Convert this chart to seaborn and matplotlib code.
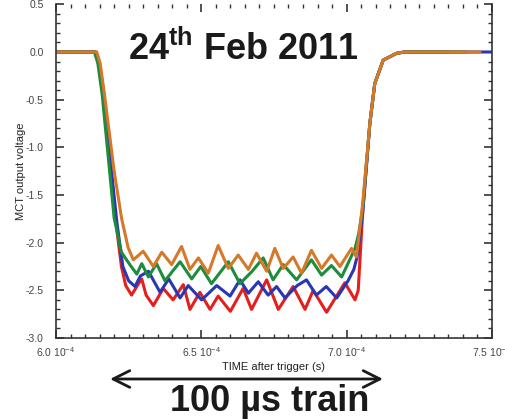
import matplotlib
matplotlib.use("Agg")
import matplotlib.pyplot as plt
from matplotlib.ticker import MultipleLocator
import numpy as np
import pandas as pd
import seaborn as sns

# time in microseconds after trigger, voltage in V
red_t = [600.3, 613.8, 615.0, 616.5, 620.6, 622.5, 624.0, 626.0, 628.0, 629.5, 631.0, 633.5,
         636.9, 640.3, 643.8, 646.1, 649.5, 653.0, 655.8, 660.0, 664.4, 667.3, 672.5, 676.5,
         681.6, 685.7, 688.5, 693.1, 699.4, 702.9, 704.0, 705.5, 708.0, 709.7, 712.6, 717.2,
         720.0, 735.0]
red_v = [0.0, 0.0, -0.12, -0.45, -1.78, -2.25, -2.45, -2.55, -2.45, -2.38, -2.55, -2.66,
         -2.48, -2.60, -2.44, -2.70, -2.52, -2.70, -2.56, -2.72, -2.48, -2.70, -2.39, -2.70,
         -2.46, -2.70, -2.50, -2.73, -2.42, -2.60, -2.50, -1.70, -0.75, -0.33, -0.085, -0.014,
         0.0, 0.0]

blue_t = [600.3, 613.6, 614.8, 616.3, 621.0, 623.0, 625.0, 627.2, 629.0, 631.8, 635.8, 638.8,
          642.7, 645.5, 650.1, 655.3, 659.9, 663.3, 666.2, 669.6, 673.0, 675.9, 678.8, 683.0,
          686.2, 689.6, 693.0, 696.6, 700.5, 702.5, 703.6, 705.5, 708.0, 709.7, 712.6, 717.2,
          720.0, 750.0]
blue_v = [0.0, 0.0, -0.12, -0.45, -1.80, -2.25, -2.40, -2.46, -2.35, -2.30, -2.52, -2.38,
          -2.58, -2.45, -2.60, -2.45, -2.56, -2.39, -2.53, -2.41, -2.55, -2.46, -2.58, -2.45,
          -2.39, -2.55, -2.46, -2.58, -2.40, -2.28, -2.15, -1.70, -0.75, -0.33, -0.085, -0.014,
          0.0, 0.0]

green_t = [600.3, 613.2, 614.4, 615.9, 620.0, 622.5, 625.4, 627.8, 629.5, 631.8, 634.6, 637.5,
           642.7, 646.7, 649.8, 653.5, 659.3, 663.3, 667.5, 671.3, 674.7, 678.2, 682.8, 687.9,
           691.4, 694.8, 698.3, 702.9, 704.2, 705.5, 708.0, 709.7, 712.6, 717.2, 720.0, 741.3]
green_v = [0.0, 0.0, -0.12, -0.45, -1.74, -2.10, -2.23, -2.33, -2.22, -2.36, -2.22, -2.40,
           -2.20, -2.38, -2.25, -2.43, -2.20, -2.43, -2.30, -2.16, -2.39, -2.23, -2.39, -2.18,
           -2.34, -2.24, -2.36, -2.06, -1.90, -1.65, -0.75, -0.33, -0.085, -0.014, 0.0, 0.0]

orange_t = [600.3, 614.0, 615.2, 616.7, 620.0, 622.6, 624.8, 626.6, 630.0, 633.5, 636.4, 639.8,
            643.2, 646.1, 649.0, 652.4, 655.8, 659.3, 662.7, 666.2, 669.0, 672.5, 675.3, 678.2,
            681.6, 684.5, 687.9, 691.4, 694.8, 697.7, 701.7, 703.4, 705.5, 708.0, 709.7, 712.6,
            717.2, 720.0, 745.9]
orange_v = [0.0, 0.0, -0.12, -0.45, -1.25, -1.75, -2.05, -2.18, -2.09, -2.25, -2.10, -2.23,
            -2.04, -2.28, -2.16, -2.32, -2.03, -2.27, -2.13, -2.28, -2.11, -2.30, -2.06, -2.27,
            -2.15, -2.32, -2.08, -2.27, -2.13, -2.25, -2.06, -2.15, -1.60, -0.75, -0.33, -0.085,
            -0.014, 0.0, 0.0]

series_names = ["red", "blue", "green", "orange"]
series_colors = ["#e3201e", "#2a37b4", "#1d8c3c", "#d6782a"]

y_ticks = [-3.0, -2.5, -2.0, -1.5, -1.0, -0.5, 0.0, 0.5]
x_ticks = [6.0e-4, 6.5e-4, 7.0e-4, 7.5e-4]
x_ticklabels = ["6.0 10$^{-4}$", "6.5 10$^{-4}$", "7.0 10$^{-4}$", "7.5 10$^{-4}$"]

frames = []
for name, t, v in zip(series_names,
                      [red_t, blue_t, green_t, orange_t],
                      [red_v, blue_v, green_v, orange_v]):
    frames.append(pd.DataFrame({"t": np.array(t) * 1e-6, "v": v, "run": name}))
df = pd.concat(frames, ignore_index=True)

sns.set_style("ticks")
plt.rcParams["font.family"] = ["Liberation Sans", "DejaVu Sans"]
plt.rcParams["mathtext.fontset"] = "custom"
plt.rcParams["mathtext.rm"] = "Liberation Sans"
plt.rcParams["mathtext.bf"] = "Liberation Sans:bold"
plt.rcParams["axes.unicode_minus"] = False

fig = plt.figure(figsize=(5.06, 4.19), dpi=100)
ax = fig.add_axes([0.1107, 0.1933, 0.8614, 0.7964])

sns.lineplot(data=df, x="t", y="v", hue="run", hue_order=series_names,
             palette=series_colors, estimator=None, sort=False, legend=False,
             linewidth=2.2, ax=ax)

ax.set_xlim(6.0e-4, 7.5e-4)
ax.set_ylim(-3.0, 0.5)
ax.set_xticks(x_ticks)
ax.set_xticklabels(x_ticklabels)
ax.set_yticks(y_ticks)
ax.set_yticklabels([f"{y:.1f}" for y in y_ticks])
ax.xaxis.set_minor_locator(MultipleLocator(5e-6))
ax.yaxis.set_minor_locator(MultipleLocator(0.1))
ax.tick_params(which="both", direction="in", top=True, right=True,
               color="#333333", labelsize=7.5, labelcolor="#444444")
ax.tick_params(which="major", length=6, width=1.2)
ax.tick_params(which="minor", length=3, width=1.0)
ax.tick_params(axis="x", pad=5)
ax.tick_params(axis="y", pad=9)
for s in ax.spines.values():
    s.set_color("#333333")
    s.set_linewidth(1.2)
ax.spines["top"].set_visible(False)

ax.set_xlabel("TIME after trigger (s)", fontsize=8, color="#222222", labelpad=2)
ax.set_ylabel("MCT output voltage", fontsize=8, color="#222222", labelpad=0)

fig.text(243.5 / 506, 1 - 60 / 419, r"24$^{\mathbf{th}}$ Feb 2011", fontsize=26,
         fontweight="bold", ha="center", va="baseline", color="#1a1a1a")
fig.text(270 / 506, 1 - 411 / 419, "100 µs train", fontsize=26,
         fontweight="bold", ha="center", va="baseline", color="#1a1a1a")
ax.annotate("", xy=(110 / 506, 1 - 379 / 419), xytext=(383 / 506, 1 - 379 / 419),
            xycoords="figure fraction", textcoords="figure fraction",
            arrowprops=dict(arrowstyle="<->,head_length=1.2,head_width=0.6",
                            color="#1a1a1a", lw=2, shrinkA=0, shrinkB=0),
            annotation_clip=False)

fig.savefig("out.png", dpi=100)
